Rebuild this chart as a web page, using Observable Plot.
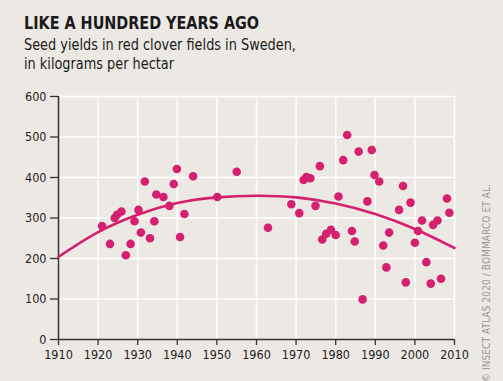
<!DOCTYPE html>
<html>
<head>
<meta charset="utf-8">
<script src="https://cdn.jsdelivr.net/npm/d3@7"></script>
<script src="https://cdn.jsdelivr.net/npm/@observablehq/plot@0.6"></script>
<style>
  html, body { margin:0; padding:0; }
  body { width:503px; height:381px; background:#ece8e4; position:relative; overflow:hidden;
         font-family:"DejaVu Sans Condensed","Liberation Sans Narrow","Roboto",sans-serif; color:#1a1a1a; }
  #title { position:absolute; left:24px; top:13px; font-size:17px; line-height:20px; font-weight:bold; white-space:nowrap;
           transform:scaleX(0.94); transform-origin:0 0; }
  #subtitle { position:absolute; left:24px; top:34.7px; font-size:16px; line-height:19.5px; white-space:nowrap;
              transform:scaleX(0.895); transform-origin:0 0; }
  #chart { position:absolute; left:0; top:80px; }
  #credit { position:absolute; left:486px; top:283px; font-size:10px; color:#9a9794; white-space:nowrap;
            transform:translate(-50%,-50%) rotate(-90deg); letter-spacing:0.1px; }
</style>
</head>
<body>
<div id="title">LIKE A HUNDRED YEARS AGO</div>
<div id="subtitle">Seed yields in red clover fields in Sweden,<br>in kilograms per hectar</div>
<div id="chart"></div>
<div id="credit">© INSECT ATLAS 2020 / BOMMARCO ET AL.</div>
<script>
const years = [1921, 1923, 1924.2, 1924.8, 1925.9, 1927, 1928.2, 1929.2, 1930.2, 1930.8, 1931.8, 1933.1, 1934.2, 1934.7, 1936.5, 1938, 1939.1, 1939.9, 1940.7, 1941.8, 1944, 1950.1, 1955,
  1962.9, 1968.8, 1970.8, 1971.9, 1972.6, 1973.6, 1974.9, 1976, 1976.6, 1977.6, 1978.8, 1980, 1980.7, 1981.9, 1982.9, 1984.1, 1984.8, 1985.8, 1986.8, 1988, 1989.1, 1989.8, 1991, 1992, 1992.8, 1993.5, 1996, 1997, 1997.7, 1998.9, 2000, 2000.8, 2001.8, 2002.9, 2004, 2004.6, 2005.7, 2006.6, 2008.1, 2008.7];
const yields = [280, 236, 300, 308, 316, 208, 236, 292, 320, 264, 390, 250, 292, 358, 352, 330, 384, 421, 253, 310, 403, 352, 414,
  276, 334, 312, 394, 401, 398, 330, 428, 247, 261, 271, 258, 353, 443, 505, 268, 242, 464, 99, 341, 468, 406, 390, 232, 178, 264, 320, 379, 141, 338, 239, 268, 294, 191, 138, 283, 294, 150, 348, 313];
const trendYears = [1910, 1920, 1930, 1940, 1950, 1960, 1970, 1980, 1990, 2000, 2010];
const trendValues = [204, 265, 308, 337, 351, 355, 351, 336, 310, 273, 226];
const xTicks = [1910, 1920, 1930, 1940, 1950, 1960, 1970, 1980, 1990, 2000, 2010];
const yTicks = [0, 100, 200, 300, 400, 500, 600];

const points = years.map((x, i) => ({x, y: yields[i]}));
const trend = trendYears.map((x, i) => ({x, y: trendValues[i]}));
const pink = "#d4206e";
const font = '"DejaVu Sans Condensed","Liberation Sans Narrow","Roboto",sans-serif';

const chart = Plot.plot({
  width: 503, height: 301,
  marginTop: 16, marginLeft: 58, marginRight: 49, marginBottom: 42,
  x: {domain: [1910, 2010], label: null},
  y: {domain: [0, 600], label: null},
  style: {background: "transparent", fontFamily: font, fontSize: "12.5px", color: "#222", overflow: "visible"},
  marks: [
    Plot.gridX(xTicks.slice(1), {stroke: "#ffffff", strokeOpacity: 1, strokeWidth: 1.5}),
    Plot.gridY(yTicks.slice(1), {stroke: "#ffffff", strokeOpacity: 1, strokeWidth: 1.5}),
    Plot.axisX(xTicks, {tickSize: 6, tickPadding: 5, tickFormat: d => String(d), stroke: "#333", strokeWidth: 1.3, fill: "#222", fontSize: 12.5, label: null}),
    Plot.axisY(yTicks, {tickSize: 8, tickPadding: 4, stroke: "#333", strokeWidth: 1.3, fill: "#222", fontSize: 12.5, label: null}),
    Plot.ruleY([0], {stroke: "#333", strokeWidth: 1.5}),
    Plot.ruleX([1910], {stroke: "#333", strokeWidth: 1.5}),
    Plot.line(trend, {x: "x", y: "y", curve: "natural", stroke: pink, strokeWidth: 2.6}),
    Plot.dot(points, {x: "x", y: "y", r: 4.3, fill: pink, stroke: "none"})
  ]
});
document.getElementById("chart").appendChild(chart);
</script>
</body>
</html>
